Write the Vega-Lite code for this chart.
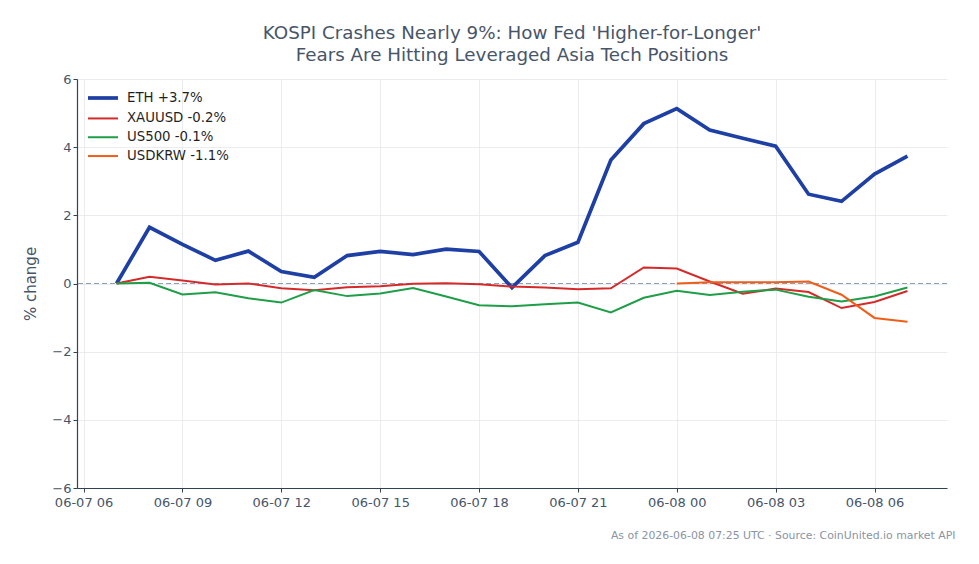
{
  "$schema": "https://vega.github.io/schema/vega-lite/v6.json",
  "width": 870,
  "height": 409,
  "autosize": {"type": "none"},
  "padding": {"left": 77, "top": 79, "right": 32, "bottom": 76},
  "background": "white",
  "config": {
    "font": "DejaVu Sans",
    "view": {"stroke": null},
    "axis": {
      "domainColor": "#334155",
      "domainWidth": 1.2,
      "tickColor": "#334155",
      "tickSize": 4,
      "labelColor": "#475569",
      "labelFontSize": 13,
      "gridColor": "#e5e7eb",
      "gridWidth": 0.8,
      "titleColor": "#475569",
      "titleFontWeight": "normal"
    },
    "legend": {
      "labelFontSize": 13.3,
      "labelColor": "#1f1f1f",
      "symbolType": "M-3,0H3",
      "symbolSize": 100,
      "labelOffset": 17,
      "rowPadding": 4.8
    }
  },
  "title": {
    "text": ["KOSPI Crashes Nearly 9%: How Fed 'Higher-for-Longer'", "Fears Are Hitting Leveraged Asia Tech Positions"],
    "fontSize": 18.3,
    "fontWeight": "normal",
    "color": "#475569",
    "lineHeight": 22,
    "offset": 8,
    "anchor": "middle"
  },
  "data": {
    "values": [
      {"t": "2026-06-07T07:00:00Z", "s": "ETH +3.7%", "v": 0.0},
      {"t": "2026-06-07T08:00:00Z", "s": "ETH +3.7%", "v": 1.65},
      {"t": "2026-06-07T09:00:00Z", "s": "ETH +3.7%", "v": 1.15},
      {"t": "2026-06-07T10:00:00Z", "s": "ETH +3.7%", "v": 0.68},
      {"t": "2026-06-07T11:00:00Z", "s": "ETH +3.7%", "v": 0.95},
      {"t": "2026-06-07T12:00:00Z", "s": "ETH +3.7%", "v": 0.35},
      {"t": "2026-06-07T13:00:00Z", "s": "ETH +3.7%", "v": 0.18},
      {"t": "2026-06-07T14:00:00Z", "s": "ETH +3.7%", "v": 0.82},
      {"t": "2026-06-07T15:00:00Z", "s": "ETH +3.7%", "v": 0.94},
      {"t": "2026-06-07T16:00:00Z", "s": "ETH +3.7%", "v": 0.85},
      {"t": "2026-06-07T17:00:00Z", "s": "ETH +3.7%", "v": 1.01},
      {"t": "2026-06-07T18:00:00Z", "s": "ETH +3.7%", "v": 0.94},
      {"t": "2026-06-07T19:00:00Z", "s": "ETH +3.7%", "v": -0.12},
      {"t": "2026-06-07T20:00:00Z", "s": "ETH +3.7%", "v": 0.82},
      {"t": "2026-06-07T21:00:00Z", "s": "ETH +3.7%", "v": 1.21},
      {"t": "2026-06-07T22:00:00Z", "s": "ETH +3.7%", "v": 3.62},
      {"t": "2026-06-07T23:00:00Z", "s": "ETH +3.7%", "v": 4.69},
      {"t": "2026-06-08T00:00:00Z", "s": "ETH +3.7%", "v": 5.13},
      {"t": "2026-06-08T01:00:00Z", "s": "ETH +3.7%", "v": 4.50},
      {"t": "2026-06-08T02:00:00Z", "s": "ETH +3.7%", "v": 4.26},
      {"t": "2026-06-08T03:00:00Z", "s": "ETH +3.7%", "v": 4.03},
      {"t": "2026-06-08T04:00:00Z", "s": "ETH +3.7%", "v": 2.62},
      {"t": "2026-06-08T05:00:00Z", "s": "ETH +3.7%", "v": 2.41},
      {"t": "2026-06-08T06:00:00Z", "s": "ETH +3.7%", "v": 3.21},
      {"t": "2026-06-08T07:00:00Z", "s": "ETH +3.7%", "v": 3.74},

      {"t": "2026-06-07T07:00:00Z", "s": "XAUUSD -0.2%", "v": 0.0},
      {"t": "2026-06-07T08:00:00Z", "s": "XAUUSD -0.2%", "v": 0.20},
      {"t": "2026-06-07T09:00:00Z", "s": "XAUUSD -0.2%", "v": 0.09},
      {"t": "2026-06-07T10:00:00Z", "s": "XAUUSD -0.2%", "v": -0.03},
      {"t": "2026-06-07T11:00:00Z", "s": "XAUUSD -0.2%", "v": 0.0},
      {"t": "2026-06-07T12:00:00Z", "s": "XAUUSD -0.2%", "v": -0.14},
      {"t": "2026-06-07T13:00:00Z", "s": "XAUUSD -0.2%", "v": -0.2},
      {"t": "2026-06-07T14:00:00Z", "s": "XAUUSD -0.2%", "v": -0.11},
      {"t": "2026-06-07T15:00:00Z", "s": "XAUUSD -0.2%", "v": -0.08},
      {"t": "2026-06-07T16:00:00Z", "s": "XAUUSD -0.2%", "v": -0.01},
      {"t": "2026-06-07T17:00:00Z", "s": "XAUUSD -0.2%", "v": 0.01},
      {"t": "2026-06-07T18:00:00Z", "s": "XAUUSD -0.2%", "v": -0.02},
      {"t": "2026-06-07T19:00:00Z", "s": "XAUUSD -0.2%", "v": -0.09},
      {"t": "2026-06-07T20:00:00Z", "s": "XAUUSD -0.2%", "v": -0.12},
      {"t": "2026-06-07T21:00:00Z", "s": "XAUUSD -0.2%", "v": -0.17},
      {"t": "2026-06-07T22:00:00Z", "s": "XAUUSD -0.2%", "v": -0.14},
      {"t": "2026-06-07T23:00:00Z", "s": "XAUUSD -0.2%", "v": 0.47},
      {"t": "2026-06-08T00:00:00Z", "s": "XAUUSD -0.2%", "v": 0.44},
      {"t": "2026-06-08T01:00:00Z", "s": "XAUUSD -0.2%", "v": 0.06},
      {"t": "2026-06-08T02:00:00Z", "s": "XAUUSD -0.2%", "v": -0.30},
      {"t": "2026-06-08T03:00:00Z", "s": "XAUUSD -0.2%", "v": -0.15},
      {"t": "2026-06-08T04:00:00Z", "s": "XAUUSD -0.2%", "v": -0.25},
      {"t": "2026-06-08T05:00:00Z", "s": "XAUUSD -0.2%", "v": -0.72},
      {"t": "2026-06-08T06:00:00Z", "s": "XAUUSD -0.2%", "v": -0.54},
      {"t": "2026-06-08T07:00:00Z", "s": "XAUUSD -0.2%", "v": -0.22},

      {"t": "2026-06-07T07:00:00Z", "s": "US500 -0.1%", "v": 0.0},
      {"t": "2026-06-07T08:00:00Z", "s": "US500 -0.1%", "v": 0.02},
      {"t": "2026-06-07T09:00:00Z", "s": "US500 -0.1%", "v": -0.32},
      {"t": "2026-06-07T10:00:00Z", "s": "US500 -0.1%", "v": -0.26},
      {"t": "2026-06-07T11:00:00Z", "s": "US500 -0.1%", "v": -0.43},
      {"t": "2026-06-07T12:00:00Z", "s": "US500 -0.1%", "v": -0.56},
      {"t": "2026-06-07T13:00:00Z", "s": "US500 -0.1%", "v": -0.19},
      {"t": "2026-06-07T14:00:00Z", "s": "US500 -0.1%", "v": -0.37},
      {"t": "2026-06-07T15:00:00Z", "s": "US500 -0.1%", "v": -0.29},
      {"t": "2026-06-07T16:00:00Z", "s": "US500 -0.1%", "v": -0.13},
      {"t": "2026-06-07T17:00:00Z", "s": "US500 -0.1%", "v": -0.38},
      {"t": "2026-06-07T18:00:00Z", "s": "US500 -0.1%", "v": -0.64},
      {"t": "2026-06-07T19:00:00Z", "s": "US500 -0.1%", "v": -0.67},
      {"t": "2026-06-07T20:00:00Z", "s": "US500 -0.1%", "v": -0.61},
      {"t": "2026-06-07T21:00:00Z", "s": "US500 -0.1%", "v": -0.56},
      {"t": "2026-06-07T22:00:00Z", "s": "US500 -0.1%", "v": -0.85},
      {"t": "2026-06-07T23:00:00Z", "s": "US500 -0.1%", "v": -0.42},
      {"t": "2026-06-08T00:00:00Z", "s": "US500 -0.1%", "v": -0.21},
      {"t": "2026-06-08T01:00:00Z", "s": "US500 -0.1%", "v": -0.34},
      {"t": "2026-06-08T02:00:00Z", "s": "US500 -0.1%", "v": -0.24},
      {"t": "2026-06-08T03:00:00Z", "s": "US500 -0.1%", "v": -0.18},
      {"t": "2026-06-08T04:00:00Z", "s": "US500 -0.1%", "v": -0.39},
      {"t": "2026-06-08T05:00:00Z", "s": "US500 -0.1%", "v": -0.53},
      {"t": "2026-06-08T06:00:00Z", "s": "US500 -0.1%", "v": -0.38},
      {"t": "2026-06-08T07:00:00Z", "s": "US500 -0.1%", "v": -0.12},

      {"t": "2026-06-08T00:00:00Z", "s": "USDKRW -1.1%", "v": 0.0},
      {"t": "2026-06-08T01:00:00Z", "s": "USDKRW -1.1%", "v": 0.04},
      {"t": "2026-06-08T02:00:00Z", "s": "USDKRW -1.1%", "v": 0.04},
      {"t": "2026-06-08T03:00:00Z", "s": "USDKRW -1.1%", "v": 0.04},
      {"t": "2026-06-08T04:00:00Z", "s": "USDKRW -1.1%", "v": 0.06},
      {"t": "2026-06-08T05:00:00Z", "s": "USDKRW -1.1%", "v": -0.33},
      {"t": "2026-06-08T06:00:00Z", "s": "USDKRW -1.1%", "v": -1.01},
      {"t": "2026-06-08T07:00:00Z", "s": "USDKRW -1.1%", "v": -1.12}
    ]
  },
  "layer": [
    {
      "mark": {"type": "rule", "strokeDash": [5, 3], "color": "#8f9fb8", "strokeWidth": 1},
      "encoding": {"y": {"datum": 0, "type": "quantitative", "axis": {"grid": true}}}
    },
    {
      "mark": {"type": "line", "strokeCap": "butt", "strokeJoin": "miter"},
      "encoding": {
        "x": {
          "field": "t",
          "type": "temporal",
          "scale": {
            "type": "utc",
            "domain": [
              {"year": 2026, "month": 6, "date": 7, "hours": 5, "minutes": 48, "utc": true},
              {"year": 2026, "month": 6, "date": 8, "hours": 8, "minutes": 12, "utc": true}
            ]
          },
          "axis": {
            "format": "%m-%d %H",
            "values": [
              {"year": 2026, "month": 6, "date": 7, "hours": 6, "utc": true},
              {"year": 2026, "month": 6, "date": 7, "hours": 9, "utc": true},
              {"year": 2026, "month": 6, "date": 7, "hours": 12, "utc": true},
              {"year": 2026, "month": 6, "date": 7, "hours": 15, "utc": true},
              {"year": 2026, "month": 6, "date": 7, "hours": 18, "utc": true},
              {"year": 2026, "month": 6, "date": 7, "hours": 21, "utc": true},
              {"year": 2026, "month": 6, "date": 8, "hours": 0, "utc": true},
              {"year": 2026, "month": 6, "date": 8, "hours": 3, "utc": true},
              {"year": 2026, "month": 6, "date": 8, "hours": 6, "utc": true}
            ],
            "labelPadding": 4,
            "title": "As of 2026-06-08 07:25 UTC · Source: CoinUnited.io market API",
            "titleFontSize": 10.9,
            "titleColor": "#8a94a3",
            "titleAnchor": "end",
            "titleAlign": "right",
            "titleBaseline": "middle",
            "titleX": 878,
            "titleY": 47
          }
        },
        "y": {
          "field": "v",
          "type": "quantitative",
          "scale": {"domain": [-6, 6], "nice": false},
          "axis": {
            "values": [-6, -4, -2, 0, 2, 4, 6],
            "grid": true,
            "title": "% change",
            "titleFontSize": 15,
            "titlePadding": 13
          }
        },
        "color": {
          "field": "s",
          "type": "nominal",
          "scale": {
            "domain": ["ETH +3.7%", "XAUUSD -0.2%", "US500 -0.1%", "USDKRW -1.1%"],
            "range": ["#1e3fa3", "#d42a2a", "#1f9e48", "#ef5e18"]
          },
          "legend": {"title": null, "orient": "none", "legendX": 19, "legendY": 12}
        },
        "strokeWidth": {
          "field": "s",
          "type": "nominal",
          "scale": {
            "type": "ordinal",
            "domain": ["ETH +3.7%", "XAUUSD -0.2%", "US500 -0.1%", "USDKRW -1.1%"],
            "range": [3.7, 2, 2, 2]
          },
          "legend": {"title": null, "orient": "none", "legendX": 19, "legendY": 12}
        }
      }
    }
  ]
}
